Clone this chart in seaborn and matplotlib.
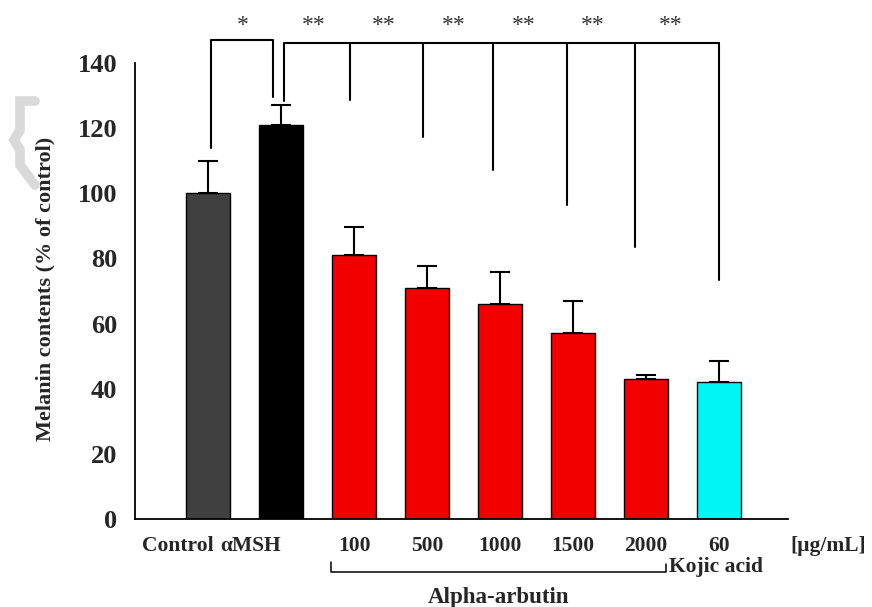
import numpy as np
import pandas as pd
import matplotlib
matplotlib.use("Agg")
import matplotlib.pyplot as plt
import seaborn as sns

groups = ["Control", "αMSH", "100", "500", "1000", "1500", "2000", "60"]
melanin = [100, 121, 81, 71, 66, 57, 43, 42]
sd = [10, 6, 8.7, 6.7, 10, 10, 1.3, 6.5]
bar_colors = ["#404040", "#000000", "#f20000", "#f20000", "#f20000",
              "#f20000", "#f20000", "#00f5f5"]

# significance marks: x positions of the bracket drops and their lower ends
drop_x = [1.95, 2.95, 3.9, 4.92, 5.85, 7.0]
drop_end = [128.6, 117.3, 107.2, 96.4, 83.5, 73.4]
star_x = [0.47, 1.44, 2.4, 3.36, 4.32, 5.27, 6.34]
star_txt = ["*", "**", "**", "**", "**", "**", "**"]


def main():
    sns.set_style("white")
    plt.rcParams["font.family"] = ["Liberation Serif", "DejaVu Serif"]
    plt.rcParams["font.weight"] = "bold"

    df = pd.DataFrame({"group": groups, "melanin": melanin})

    fig = plt.figure(figsize=(8.72, 6.07), dpi=100)
    ax = fig.add_axes([0.155, 0.145, 0.749, 0.751])

    sns.barplot(data=df, x="group", y="melanin", hue="group", palette=bar_colors,
                saturation=1, width=0.6, edgecolor="black", linewidth=1.0,
                legend=False, ax=ax)
    ax.errorbar(range(len(groups)), melanin, yerr=[np.zeros(len(sd)), sd],
                fmt="none", ecolor="black", elinewidth=1.5, capsize=7, capthick=1.5)

    ax.set_xlim(-1.0, 7.95)
    ax.set_ylim(0, 140)
    ax.set_yticks(range(0, 141, 20))
    ax.tick_params(axis="y", labelsize=19, length=6, width=1.2, direction="out", pad=7)
    ax.tick_params(axis="x", length=0)
    ax.set_xticks([])
    ax.set_xlabel("")
    ax.set_ylabel("Melanin contents (% of control)", fontsize=16, fontweight="bold")
    ax.yaxis.set_label_coords(-0.122, 0.505)
    for s in ["top", "right"]:
        ax.spines[s].set_visible(False)
    for s in ["left", "bottom"]:
        ax.spines[s].set_linewidth(1.3)
        ax.spines[s].set_color("black")
    for lab in ax.get_yticklabels():
        lab.set_fontweight("bold")

    # category labels below axis
    ty = -8.3
    fs = 15.5
    ax.text(0.08, ty, "Control", ha="right", va="center", fontsize=fs, clip_on=False)
    ax.text(0.99, ty, "αMSH", ha="right", va="center", fontsize=fs, clip_on=False)
    for i in range(2, len(groups)):
        ax.text(i, ty, groups[i], ha="center", va="center", fontsize=fs, clip_on=False)
    ax.text(8.5, ty, "[µg/mL]", ha="center", va="center", fontsize=fs, clip_on=False)

    # alpha-arbutin bracket
    kw = dict(color="black", lw=1.1, clip_on=False)
    ax.plot([1.69, 1.69, 6.27, 6.27], [-13.3, -16.3, -16.3, -13.8], **kw)
    ax.text(6.32, -14.8, "Kojic acid", ha="left", va="center", fontsize=fs, clip_on=False)
    ax.text(3.98, -24.0, "Alpha-arbutin", ha="center", va="center", fontsize=16.5,
            clip_on=False)

    # significance brackets
    lw = dict(color="black", lw=1.5, clip_on=False)
    ax.plot([0.04, 0.04, 0.89, 0.89], [113.9, 147.0, 147.0, 129.6], **lw)
    ax.plot([1.04, 1.04, 7.0], [128.3, 146.1, 146.1], **lw)
    for x, y in zip(drop_x, drop_end):
        ax.plot([x, x], [146.1, y], **lw)
    for x, t in zip(star_x, star_txt):
        ax.text(x, 151.5, t, ha="center", va="center", fontsize=17, color="#333333",
                fontweight="normal", clip_on=False)

    # faint grey mark at the left margin
    px = np.array([35, 20, 20, 14, 20, 20, 35])
    py = np.array([101, 101, 130, 140, 150, 165, 185])
    fig.add_artist(plt.Line2D(px / 872, 1 - py / 607, color="#d9d9d9", lw=7,
                              solid_joinstyle="miter"))

    fig.savefig("out.png", dpi=100)
    plt.close(fig)


if __name__ == "__main__":
    main()
